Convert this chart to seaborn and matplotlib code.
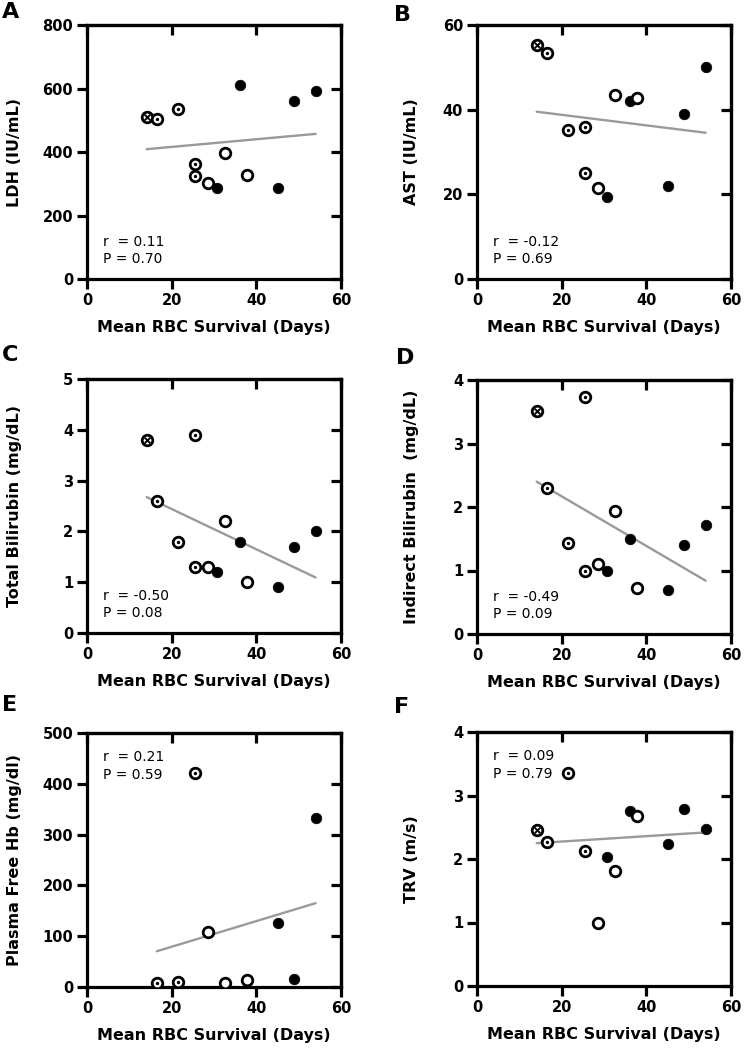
import numpy as np
import pandas as pd
import matplotlib
matplotlib.use("Agg")
import matplotlib.pyplot as plt
import seaborn as sns

sns.set_theme(style="ticks")
plt.rcParams['font.family'] = ['DejaVu Sans']
plt.rcParams['xtick.bottom'] = True
plt.rcParams['ytick.left'] = True
plt.rcParams['text.color'] = 'black'
plt.rcParams['axes.labelcolor'] = 'black'
plt.rcParams['xtick.color'] = 'black'
plt.rcParams['ytick.color'] = 'black'

# ---- data (x = mean RBC survival, days), grouped by marker type ----
X_CROSS = [14.1]
X_DOT = [16.5, 21.5, 25.4, 25.4]
X_OPEN = [28.7, 32.5, 37.9]
X_FILLED = [30.7, 36.2, 45.2, 49.0, 54.0]

NAN = np.nan
LDH_CROSS = [509]
LDH_DOT = [504, 534, 362, 325]
LDH_OPEN = [301, 396, 328]
LDH_FILLED = [288, 611, 288, 561, 591]

AST_CROSS = [55.3]
AST_DOT = [53.3, 35.1, 35.8, 25.0]
AST_OPEN = [21.6, 43.4, 42.8]
AST_FILLED = [19.3, 42.1, 22.0, 38.9, 50.0]

TBILI_CROSS = [3.8]
TBILI_DOT = [2.6, 1.8, 3.9, 1.3]
TBILI_OPEN = [1.3, 2.2, 1.0]
TBILI_FILLED = [1.2, 1.8, 0.9, 1.7, 2.0]

IBILI_CROSS = [3.51]
IBILI_DOT = [2.30, 1.43, 3.73, 1.00]
IBILI_OPEN = [1.10, 1.94, 0.73]
IBILI_FILLED = [1.00, 1.50, 0.69, 1.40, 1.72]

PFHB_CROSS = [NAN]
PFHB_DOT = [8, 9, 422, NAN]
PFHB_OPEN = [108, 7, 14]
PFHB_FILLED = [NAN, NAN, 126, 16, 333]

TRV_CROSS = [2.45]
TRV_DOT = [2.27, 3.35, 2.13, NAN]
TRV_OPEN = [0.99, 1.81, 2.67]
TRV_FILLED = [2.03, 2.75, 2.23, 2.79, 2.47]

PANELS = [
    ("A", "LDH (IU/mL)", (LDH_CROSS, LDH_DOT, LDH_OPEN, LDH_FILLED), 800, 200, "r  = 0.11", "P = 0.70", "bottom"),
    ("B", "AST (IU/mL)", (AST_CROSS, AST_DOT, AST_OPEN, AST_FILLED), 60, 20, "r  = -0.12", "P = 0.69", "bottom"),
    ("C", "Total Bilirubin (mg/dL)", (TBILI_CROSS, TBILI_DOT, TBILI_OPEN, TBILI_FILLED), 5, 1, "r  = -0.50", "P = 0.08", "bottom"),
    ("D", "Indirect Bilirubin  (mg/dL)", (IBILI_CROSS, IBILI_DOT, IBILI_OPEN, IBILI_FILLED), 4, 1, "r  = -0.49", "P = 0.09", "bottom"),
    ("E", "Plasma Free Hb (mg/dl)", (PFHB_CROSS, PFHB_DOT, PFHB_OPEN, PFHB_FILLED), 500, 100, "r  = 0.21", "P = 0.59", "top"),
    ("F", "TRV (m/s)", (TRV_CROSS, TRV_DOT, TRV_OPEN, TRV_FILLED), 4, 1, "r  = 0.09", "P = 0.79", "top"),
]
XLABEL = "Mean RBC Survival (Days)"
XTICKS = [0, 20, 40, 60]

W, H = 744, 1050
fig = plt.figure(figsize=(W / 100, H / 100), dpi=100)

# axes boxes in pixels: (left, top)
BOX = 254
positions = [(87, 25), (477, 25), (87, 379), (477, 380), (87, 733), (477, 732)]
letter_pos = [(2, 2), (394, 5), (2, 345), (396, 348), (2, 695), (394, 697)]

LW = 2.3
MS = 58
for i, (letter, ylabel, groups, ymax, ystep, rtxt, ptxt, where) in enumerate(PANELS):
    lx, ty = positions[i]
    ax = fig.add_axes([lx / W, 1 - (ty + BOX) / H, BOX / W, BOX / H])
    cross, dot, opn, filled = groups
    df = pd.DataFrame({
        "x": X_CROSS + X_DOT + X_OPEN + X_FILLED,
        "y": list(cross) + list(dot) + list(opn) + list(filled),
        "g": ["cross"] * len(X_CROSS) + ["dot"] * len(X_DOT) + ["open"] * len(X_OPEN) + ["filled"] * len(X_FILLED),
    }).dropna()

    sns.regplot(data=df, x="x", y="y", ax=ax, scatter=False, ci=None, truncate=True,
                line_kws=dict(color="#9a9a9a", lw=1.7, zorder=2))
    d = df[df.g == "filled"]
    sns.scatterplot(data=d, x="x", y="y", ax=ax, s=MS, color="black", edgecolor="black", linewidth=0.5, zorder=3)
    d = df[df.g.isin(["open", "dot", "cross"])]
    sns.scatterplot(data=d, x="x", y="y", ax=ax, s=MS, color="white", edgecolor="black", linewidth=2.0, zorder=4)
    d = df[df.g == "dot"]
    sns.scatterplot(data=d, x="x", y="y", ax=ax, s=6, color="black", edgecolor="black", linewidth=0, zorder=5)
    d = df[df.g == "cross"]
    sns.scatterplot(data=d, x="x", y="y", ax=ax, s=16, marker="x", color="black", linewidth=1.4, zorder=5)

    ax.set_xlim(0, 60)
    ax.set_ylim(0, ymax)
    ax.set_xticks(XTICKS)
    ax.set_yticks(np.arange(0, ymax + ystep / 2, ystep))
    ax.set_xlabel(XLABEL, fontsize=11.5, fontweight="bold", color="black")
    ax.set_ylabel(ylabel, fontsize=11.5, fontweight="bold", color="black")
    ax.xaxis.set_label_coords(0.5, -0.16)
    ax.yaxis.set_label_coords(-0.255 if i % 2 == 0 else -0.228, 0.5)
    for sp in ax.spines.values():
        sp.set_linewidth(LW)
        sp.set_color("black")
        sp.set_visible(True)
    ax.tick_params(axis="both", which="major", direction="out", length=7, width=LW, color="black",
                   labelsize=10.5, pad=3, bottom=True, left=True, labelcolor="black")
    for lab in ax.get_xticklabels() + ax.get_yticklabels():
        lab.set_fontweight("bold")
    # inward mirror ticks on top and right
    sx = ax.secondary_xaxis("top")
    sx.set_xticks(XTICKS)
    sx.tick_params(direction="in", length=7, width=LW, labeltop=False, color="black", top=True)
    sx.spines["top"].set_linewidth(LW)
    sy = ax.secondary_yaxis("right")
    sy.set_yticks(np.arange(0, ymax + ystep / 2, ystep))
    sy.tick_params(direction="in", length=7, width=LW, labelright=False, color="black", right=True)
    sy.spines["right"].set_linewidth(LW)

    if where == "bottom":
        y1, y2 = 0.146, 0.079
    else:
        y1, y2 = 0.906, 0.835
    ax.text(0.063, y1, rtxt, transform=ax.transAxes, fontsize=10, ha="left", va="center", color="black")
    ax.text(0.063, y2, ptxt, transform=ax.transAxes, fontsize=10, ha="left", va="center", color="black")

    px, py = letter_pos[i]
    fig.text(px / W, 1 - py / H, letter, fontsize=16, fontweight="bold", ha="left", va="top", color="black")

fig.savefig("out.png", dpi=100)
